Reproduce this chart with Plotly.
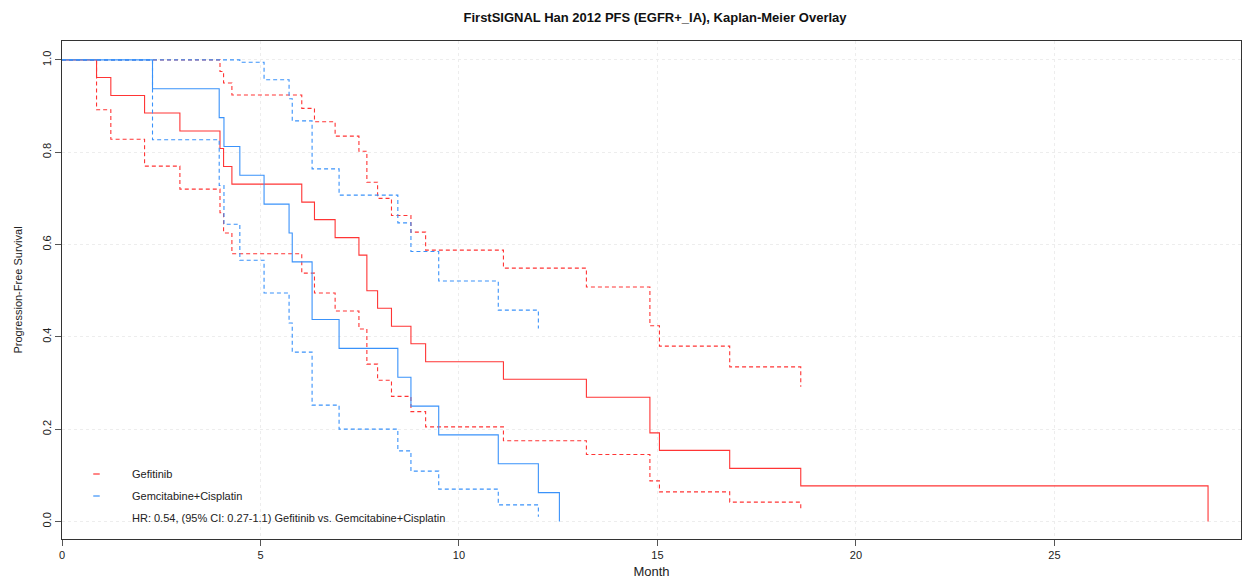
import plotly.graph_objects as go

# ---- Data ----
gef_time = [0, 0.87, 1.23, 2.08, 2.97, 3.98, 4.07, 4.28, 6.04, 6.36, 6.88, 7.48, 7.68,
            7.95, 8.30, 8.79, 9.16, 11.12, 13.21, 14.81, 15.05, 16.82, 18.61, 28.87]
gef_surv = [1.0, 0.962, 0.923, 0.885, 0.846, 0.808, 0.769, 0.731, 0.692, 0.654, 0.615, 0.577,
            0.500, 0.462, 0.423, 0.385, 0.346, 0.308, 0.269, 0.192, 0.154, 0.115, 0.077, 0.0]

gef_ci_time = [0, 0.87, 1.23, 2.08, 2.97, 3.98, 4.07, 4.28, 6.04, 6.36, 6.88, 7.48, 7.68,
               7.95, 8.30, 8.79, 9.16, 11.12, 13.21, 14.81, 15.05, 16.82, 18.61]
gef_upper = [1.0, 1.0, 1.0, 1.0, 1.0, 0.975, 0.950, 0.924, 0.895, 0.866, 0.835, 0.802, 0.735,
             0.700, 0.663, 0.627, 0.588, 0.549, 0.508, 0.424, 0.380, 0.335, 0.292]
gef_lower = [1.0, 0.892, 0.828, 0.770, 0.720, 0.669, 0.625, 0.580, 0.538, 0.495, 0.456, 0.417,
             0.341, 0.306, 0.271, 0.238, 0.205, 0.175, 0.145, 0.088, 0.064, 0.042, 0.022]

gc_time = [0, 2.28, 3.96, 4.08, 4.48, 5.09, 5.72, 5.80, 6.30, 6.98, 8.46, 8.79, 9.49,
           10.99, 12.0, 12.53]
gc_surv = [1.0, 0.9375, 0.875, 0.8125, 0.75, 0.6875, 0.625, 0.5625, 0.4375, 0.375, 0.3125,
           0.25, 0.1875, 0.125, 0.0625, 0.0]

gc_ci_time = [0, 2.28, 3.96, 4.08, 4.48, 5.09, 5.72, 5.80, 6.30, 6.98, 8.46, 8.79, 9.49,
              10.99, 12.0]
gc_upper = [1.0, 1.0, 1.0, 1.0, 0.995, 0.957, 0.916, 0.868, 0.764, 0.707, 0.647, 0.585, 0.521,
            0.458, 0.418]
gc_lower = [1.0, 0.827, 0.728, 0.644, 0.566, 0.495, 0.430, 0.367, 0.252, 0.200, 0.153, 0.109,
            0.070, 0.036, 0.010]

x_ticks = [0, 5, 10, 15, 20, 25]
y_ticks = [0.0, 0.2, 0.4, 0.6, 0.8, 1.0]
y_tick_text = ["0.0", "0.2", "0.4", "0.6", "0.8", "1.0"]

arm_names = ["Gefitinib", "Gemcitabine+Cisplatin"]
hr_text = "HR: 0.54, (95% CI: 0.27-1.1) Gefitinib vs. Gemcitabine+Cisplatin"
title_text = "FirstSIGNAL Han 2012 PFS (EGFR+_IA), Kaplan-Meier Overlay"

RED = "#FF3535"
BLUE = "#3A92FA"
DASH = "4px,3px"
FONT = "Liberation Sans, Arial, Helvetica, sans-serif"

fig = go.Figure()

def add_curve(t, s, color, dash=None):
    fig.add_trace(go.Scatter(
        x=t, y=s, mode="lines", line_shape="hv",
        line=dict(color=color, width=1.1, dash=dash if dash else "solid"),
        showlegend=False, hoverinfo="skip"))

# red first, blue on top
add_curve(gef_ci_time, gef_upper, RED, DASH)
add_curve(gef_ci_time, gef_lower, RED, DASH)
add_curve(gef_time, gef_surv, RED)
add_curve(gc_ci_time, gc_upper, BLUE, DASH)
add_curve(gc_ci_time, gc_lower, BLUE, DASH)
add_curve(gc_time, gc_surv, BLUE)

# legend drawn as small swatches + text
legend_y = [0.1305, 0.0863]
for name, col, yy in zip(arm_names, [RED, BLUE], legend_y):
    fig.add_shape(type="line", xref="paper", yref="paper",
                  x0=0.0265, x1=0.0320, y0=yy, y1=yy,
                  line=dict(color=col, width=2), opacity=0.6)
    fig.add_annotation(xref="paper", yref="paper", x=0.0575, y=yy, text=name,
                       showarrow=False, font=dict(color="#222222", size=11, family=FONT),
                       xanchor="left", yanchor="middle")
fig.add_annotation(xref="paper", yref="paper", x=0.0575, y=0.0422, text=hr_text,
                   showarrow=False, font=dict(color="#222222", size=11, family=FONT),
                   xanchor="left", yanchor="middle")

axis_common = dict(
    showline=True, linecolor="#333333", linewidth=1, mirror=True,
    ticks="outside", ticklen=6, tickcolor="#555555", tickwidth=1,
    showgrid=True, gridcolor="#EDEDED", griddash="dot", gridwidth=1,
    zeroline=False, tickfont=dict(size=11, color="#222222", family=FONT),
    automargin=False,
)

fig.update_layout(
    width=1248, height=587,
    paper_bgcolor="white", plot_bgcolor="white",
    margin=dict(l=62, r=7, t=41, b=48),
    title=dict(text="<b>" + title_text + "</b>", x=0.503, xref="paper", y=0.971,
               yanchor="middle", font=dict(size=13, color="#111111", family=FONT)),
    xaxis=dict(range=[0, 29.7], tickvals=x_ticks,
               title=dict(text="Month", standoff=6,
                          font=dict(size=13, color="#222222", family=FONT)),
               **axis_common),
    yaxis=dict(range=[-0.038, 1.041], tickvals=y_ticks, ticktext=y_tick_text,
               tickangle=-90,
               title=dict(text="Progression-Free Survival", standoff=15,
                          font=dict(size=11, color="#222222", family=FONT)),
               **axis_common),
)

fig.write_html("out.html", config={"displayModeBar": False},
               post_script="document.body.style.margin='0';document.body.style.overflow='hidden';")
